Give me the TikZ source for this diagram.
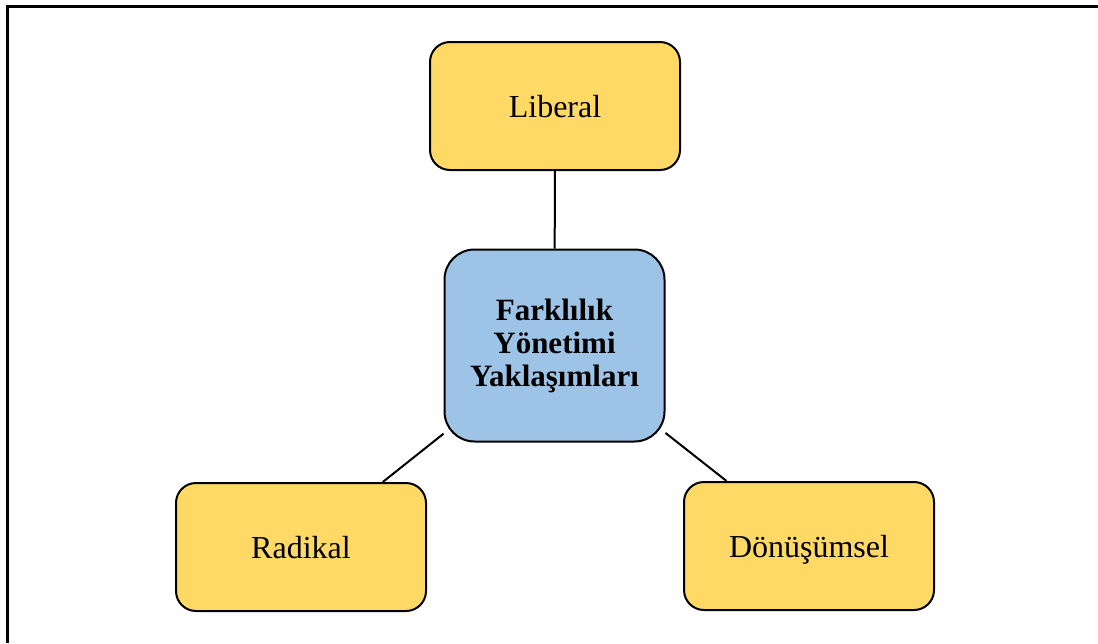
\documentclass[tikz,border=0pt]{standalone}
\usepackage{fontspec}
\setmainfont{Liberation Serif}
\definecolor{leafgold}{HTML}{FFD966}
\definecolor{hubblue}{HTML}{9DC3E6}
\begin{document}
\begin{tikzpicture}[x=0.5pt, y=-0.5pt,
  leaf/.style={draw=black, line width=1pt, fill=leafgold, rounded corners=10pt,
    minimum width=125pt, minimum height=64pt, inner sep=0pt,
    text height=11pt, text depth=0pt,
    font=\fontsize{16}{19}\selectfont},
  hub/.style={draw=black, line width=1pt, fill=hubblue, rounded corners=15pt,
    minimum width=110pt, minimum height=96pt, inner sep=0pt, align=center,
    font=\fontsize{15.5}{16.5}\selectfont\bfseries},
  link/.style={draw=black, line width=1pt}]
  \useasboundingbox (0,0) rectangle (1098,643);
  % open frame: top and left edges
  \draw[line width=1.5pt] (7.5,643) -- (7.5,6.8) -- (1098,6.8);
  % nodes
  \node[hub]  (hub) at (554.5,345.5) {Farklılık\\Yönetimi\\Yaklaşımları};
  \node[leaf] (lib) at (555,106) {Liberal};
  \node[leaf] (rad) at (301,547) {Radikal};
  \node[leaf] (don) at (809,546) {Dönüşümsel};
  % connectors
  \draw[link] (lib) -- (hub);
  \draw[link] (rad) -- (hub);
  \draw[link] (don) -- (hub);
\end{tikzpicture}
\end{document}
